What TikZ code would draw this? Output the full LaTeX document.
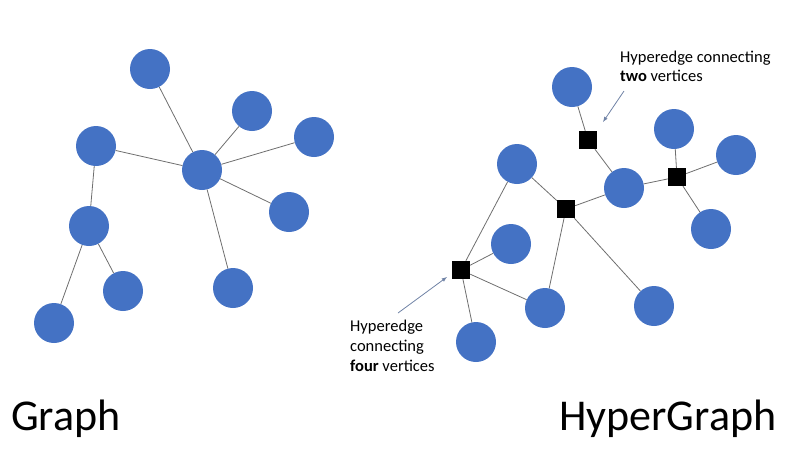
\documentclass[tikz,border=0pt]{standalone}
\usepackage{fontspec}
\setmainfont{Carlito}
\usepackage{tikz}
\usetikzlibrary{positioning}
\definecolor{vblue}{HTML}{4472C4}
\definecolor{lgray}{HTML}{6E6E6E}
\definecolor{pgray}{HTML}{7083A6}
\tikzstyle{novertex} = [draw=none, fill=none, inner sep=0pt]
\tikzstyle{vertex} = [circle, fill=vblue, minimum size=40pt, inner sep=0pt]
\tikzstyle{hedge} = [rectangle, fill=black, minimum size=18pt, inner sep=0pt]
\tikzstyle{link} = [draw, lgray, line width=0.8pt]
\tikzstyle{pointer} = [draw, pgray, line width=0.8pt, -latex]

\begin{document}
\begin{tikzpicture}[x=1pt, y=-1pt]
	\useasboundingbox (0,0) rectangle (800,451);

	% graph nodes
	\node [vertex] (G1) at (150,69)  {};
	\node [vertex] (G2) at (252,111) {};
	\node [vertex] (G3) at (314,137) {};
	\node [vertex] (G4) at (96,146)  {};
	\node [vertex] (G0) at (202,170) {};
	\node [vertex] (G5) at (289,212) {};
	\node [vertex] (G6) at (89,226)  {};
	\node [vertex] (G7) at (123,291) {};
	\node [vertex] (G8) at (233,288) {};
	\node [vertex] (G9) at (54,323)  {};

	% graph edges
	\path [link] (G0) -- (G1);
	\path [link] (G0) -- (G2);
	\path [link] (G0) -- (G3);
	\path [link] (G0) -- (G4);
	\path [link] (G0) -- (G5);
	\path [link] (G0) -- (G8);
	\path [link] (G4) -- (G6);
	\path [link] (G6) -- (G7);
	\path [link] (G6) -- (G9);

	% hypergraph nodes
	\node [vertex] (H1)  at (572,87)  {};
	\node [vertex] (H2)  at (674,129) {};
	\node [vertex] (H3)  at (736,155) {};
	\node [vertex] (H4)  at (517,164) {};
	\node [vertex] (H5)  at (624,188) {};
	\node [vertex] (H6)  at (711,229) {};
	\node [vertex] (H7)  at (511,244) {};
	\node [vertex] (H8)  at (545,308) {};
	\node [vertex] (H9)  at (654,306) {};
	\node [vertex] (H10) at (476,342) {};

	% hyperedges
	\node [hedge] (E1) at (588,140) {};
	\node [hedge] (E2) at (677,177) {};
	\node [hedge] (E3) at (566,209) {};
	\node [hedge] (E4) at (461,270) {};

	% hyperedge links
	\path [link] (E1) -- (H1);
	\path [link] (E1) -- (H5);
	\path [link] (E2) -- (H2);
	\path [link] (E2) -- (H3);
	\path [link] (E2) -- (H5);
	\path [link] (E2) -- (H6);
	\path [link] (E3) -- (H4);
	\path [link] (E3) -- (H5);
	\path [link] (E3) -- (H8);
	\path [link] (E3) -- (H9);
	\path [link] (E4) -- (H4);
	\path [link] (E4) -- (H7);
	\path [link] (E4) -- (H8);
	\path [link] (E4) -- (H10);

	% labels
	\node [novertex, anchor=north west, align=left, font=\fontsize{16.5}{18.5}\selectfont]
		(L1) at (620,51) {Hyperedge connecting\\\textbf{two} vertices};
	\node [novertex, anchor=north west, align=left, font=\fontsize{16.5}{20}\selectfont]
		(L2) at (350,320) {Hyperedge\\connecting\\\textbf{four} vertices};
	\node [novertex, anchor=base west, font=\fontsize{44}{50}\selectfont]
		(T1) at (11,430) {Graph};
	\node [novertex, anchor=base west, font=\fontsize{44}{50}\selectfont]
		(T2) at (559,430) {HyperGraph};

	% pointers
	\coordinate (P1) at (624,91);
	\coordinate (P2) at (603,122);
	\coordinate (P3) at (398,313);
	\coordinate (P4) at (447,277);
	\path [pointer] (P1) -- (P2);
	\path [pointer] (P3) -- (P4);
\end{tikzpicture}
\end{document}
